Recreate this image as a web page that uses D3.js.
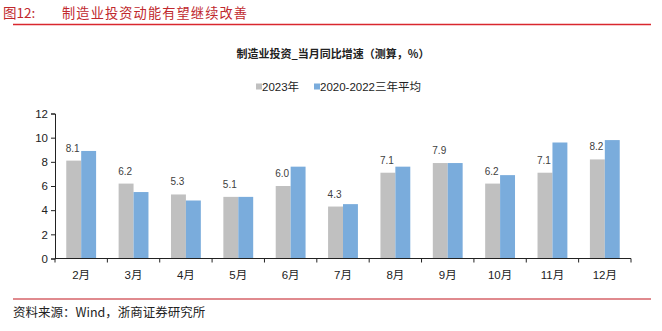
<!DOCTYPE html>
<html><head><meta charset="utf-8">
<script src="https://cdn.jsdelivr.net/npm/d3@7"></script>
<style>body{margin:0;background:#fff}svg{display:block}</style>
</head><body>
<script>
const categories = ["2月","3月","4月","5月","6月","7月","8月","9月","10月","11月","12月"];
const series2023 = [8.1,6.2,5.3,5.1,6.0,4.3,7.1,7.9,6.2,7.1,8.2];
const seriesAvg = [8.9,5.5,4.8,5.1,7.6,4.5,7.6,7.9,6.9,9.6,9.8];
const seriesNames = ["2023年","2020-2022三年平均"];
const yTicks = [0,2,4,6,8,10,12];

const W=662,H=331;
const svg=d3.select("body").append("svg").attr("width",W).attr("height",H);
const cjk="'Noto Sans CJK SC',sans-serif";
const sans="'Liberation Sans',Arial,'Noto Sans CJK SC',sans-serif";

svg.append("text").attr("x",3).attr("y",18).attr("fill","#c0282d")
  .attr("font-family",cjk).attr("font-size",13.5).text("图12:");
svg.append("text").attr("x",62).attr("y",18).attr("fill","#c0282d")
  .attr("font-family",cjk).attr("font-size",13.2).attr("textLength",185).attr("lengthAdjust","spacing")
  .text("制造业投资动能有望继续改善");
svg.append("line").attr("x1",13).attr("x2",651).attr("y1",24.5).attr("y2",24.5)
  .attr("stroke","#d9272e").attr("stroke-width",1.5);
svg.append("line").attr("x1",13).attr("x2",651).attr("y1",299).attr("y2",299)
  .attr("stroke","#e08a8e").attr("stroke-width",2);
svg.append("text").attr("x",13).attr("y",317).attr("fill","#222")
  .attr("font-family",cjk).attr("font-size",12.5)
  .text("资料来源：Wind，浙商证券研究所");

svg.append("text").attr("x",333).attr("y",58).attr("text-anchor","middle")
  .attr("font-family",cjk).attr("font-weight","bold").attr("font-size",11)
  .attr("fill","#222").text("制造业投资_当月同比增速（测算，%）");

const colors=["#c0c0c0","#7aacdc"];
const legX=[256,314];
seriesNames.forEach((n,i)=>{
  svg.append("rect").attr("x",legX[i]).attr("y",83.5).attr("width",6).attr("height",6).attr("fill",colors[i]);
  svg.append("text").attr("x",legX[i]+6).attr("y",91).attr("font-family",sans).attr("font-size",11.5)
    .attr("fill","#222").text(n);
});

const x0=d3.scaleBand().domain(categories).range([55,631]).paddingInner(0.43).paddingOuter(0.215);
const x1=d3.scaleBand().domain([0,1]).range([0,x0.bandwidth()]);
const y=d3.scaleLinear().domain([0,12]).range([258.5,113.5]);

const data=categories.map((c,i)=>({c,v:[series2023[i],seriesAvg[i]]}));
const g=svg.append("g");
data.forEach(d=>{
  d.v.forEach((v,j)=>{
    g.append("rect").attr("x",x0(d.c)+x1(j)).attr("y",y(v)).attr("width",x1.bandwidth())
      .attr("height",y(0)-y(v)).attr("fill",colors[j]);
  });
  g.append("text").attr("x",x0(d.c)+x1(0)+x1.bandwidth()/2-1).attr("y",y(d.v[0])-9)
    .attr("text-anchor","middle").attr("font-family",sans).attr("font-size",10).attr("fill","#404040")
    .text(d3.format(".1f")(d.v[0]));
});

const ya=svg.append("g").attr("transform","translate(55,0)")
  .call(d3.axisLeft(y).tickValues(yTicks).tickSize(4).tickFormat(d3.format("d")));
ya.selectAll("text").attr("font-family",sans).attr("font-size",11.5).attr("fill","#222");
ya.selectAll("path,line").attr("stroke","#222");

const xa=svg.append("g").attr("transform","translate(0,258.5)");
xa.append("line").attr("x1",55).attr("x2",631).attr("stroke","#222");
const step=(631-55)/categories.length;
d3.range(categories.length+1).forEach(i=>{
  xa.append("line").attr("x1",55+i*step).attr("x2",55+i*step).attr("y1",0).attr("y2",4).attr("stroke","#222");
});
categories.forEach(c=>{
  xa.append("text").attr("x",x0(c)+x0.bandwidth()/2).attr("y",20).attr("text-anchor","middle")
    .attr("font-family",sans).attr("font-size",11.5).attr("fill","#222").text(c);
});
</script>
</body></html>
